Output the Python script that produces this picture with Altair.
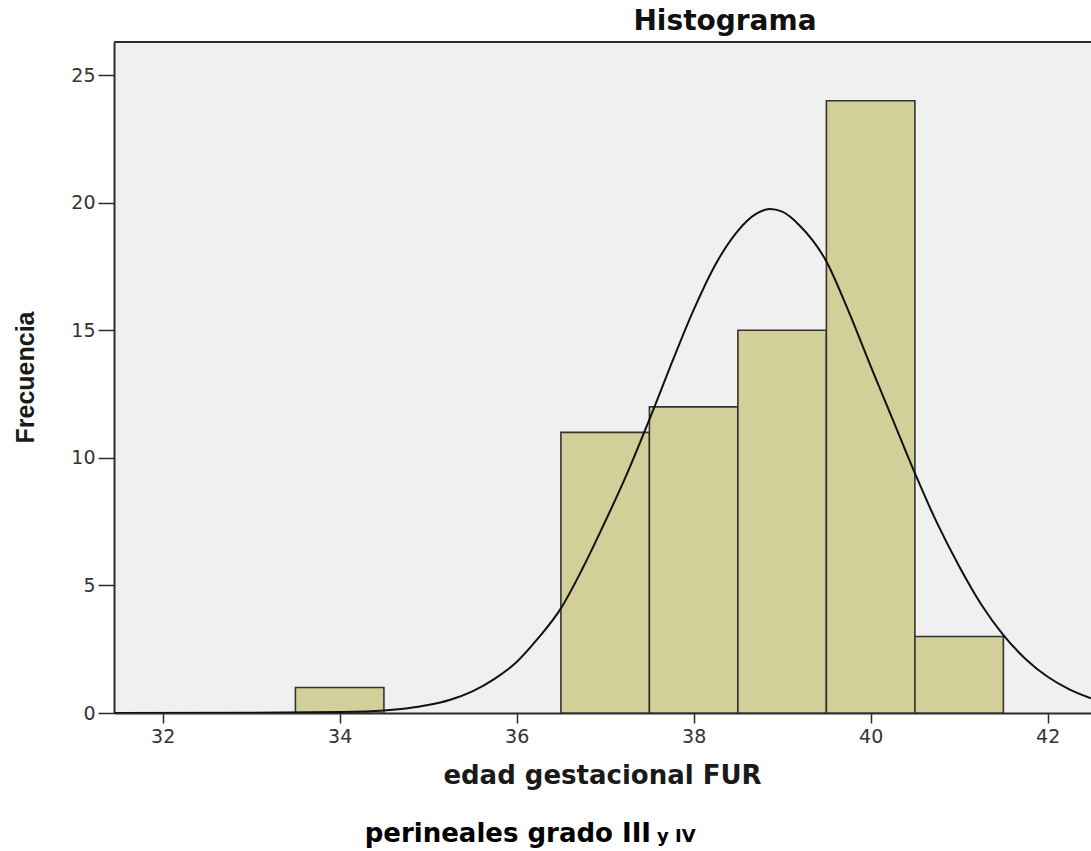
import altair as alt
import pandas as pd

# Histogram bins (edad gestacional FUR) and frequencies
bin_start = [33.5, 36.5, 37.5, 38.5, 39.5, 40.5]
bin_end = [34.5, 37.5, 38.5, 39.5, 40.5, 41.5]
counts = [1, 11, 12, 15, 24, 3]

# Normal curve, values
curve_x = [31.45, 33.0, 34.0, 34.5, 34.75, 35.0, 35.25, 35.5, 35.75, 36.0, 36.25,
           36.5, 36.75, 37.0, 37.25, 37.5, 37.75, 38.0, 38.25, 38.5, 38.7,
           38.86, 39.0, 39.2, 39.5, 39.75, 40.0, 40.25, 40.5, 40.75, 41.0,
           41.25, 41.5, 41.75, 42.0, 42.25, 42.49]
curve_y = [0.0, 0.01, 0.04, 0.1, 0.18, 0.31, 0.52, 0.85, 1.34, 2.0, 2.96,
           4.1, 5.7, 7.5, 9.4, 11.5, 13.7, 15.8, 17.6, 18.9, 19.55,
           19.75, 19.65, 19.1, 17.7, 15.75, 13.6, 11.5, 9.4, 7.45, 5.75,
           4.25, 3.05, 2.12, 1.42, 0.92, 0.58]

x_ticks = [32, 34, 36, 38, 40, 42]
y_ticks = [0, 5, 10, 15, 20, 25]

W, H = 977, 671
AX = "#2b2b2b"

bars_df = pd.DataFrame({"start": bin_start, "end": bin_end, "count": counts})
curve_df = pd.DataFrame({"x": curve_x, "y": curve_y})

xscale = alt.Scale(domain=[31.45, 42.49], nice=False, zero=False)
yscale = alt.Scale(domain=[0, 26.3], nice=False)

xaxis = alt.Axis(values=x_ticks, format="d", grid=False, tickSize=10, tickWidth=1.5,
                 tickColor=AX, domainColor=AX, domainWidth=2,
                 labelFont="DejaVu Sans", labelFontSize=19, labelColor="#333333",
                 labelPadding=4, title="edad gestacional FUR",
                 titleFont="DejaVu Sans", titleFontSize=26, titleFontWeight="bold",
                 titleColor="#1a1a1a", titleX=488, titleY=70,
                 titleBaseline="alphabetic", titleAlign="center")
yaxis = alt.Axis(values=y_ticks, format="d", grid=False, tickSize=16, tickWidth=1.5,
                 tickColor=AX, domainColor=AX, domainWidth=2,
                 labelFont="DejaVu Sans", labelFontSize=19, labelColor="#333333",
                 labelPadding=3, title="Frecuencia",
                 titleFont="Liberation Sans", titleFontSize=25, titleFontWeight="bold",
                 titleColor="#1a1a1a", titleAngle=270, titleX=-89, titleY=335,
                 titleBaseline="middle", titleAlign="center")

bars = alt.Chart(bars_df).mark_rect(
    color="#d3cf98", stroke="#333333", strokeWidth=1.6
).encode(
    x=alt.X("start:Q", scale=xscale, axis=xaxis),
    x2="end:Q",
    y=alt.Y("count:Q", scale=yscale, axis=yaxis),
    y2=alt.datum(0),
)

curve = alt.Chart(curve_df).mark_line(
    color="#111111", strokeWidth=2, interpolate="monotone", clip=True
).encode(
    x=alt.X("x:Q", scale=xscale),
    y=alt.Y("y:Q", scale=yscale),
)

top_border = alt.Chart(pd.DataFrame({"a": [0]})).mark_rule(
    color=AX, strokeWidth=2
).encode(x=alt.value(0), x2=alt.value(W), y=alt.value(0))

title_txt = alt.Chart(pd.DataFrame({"t": ["Histograma"]})).mark_text(
    font="DejaVu Sans", fontSize=28, fontWeight="bold", color="#111111",
    align="center", baseline="alphabetic"
).encode(text="t:N", x=alt.value(611), y=alt.value(-12))

cap1 = alt.Chart(pd.DataFrame({"t": ["perineales grado III"]})).mark_text(
    font="DejaVu Sans", fontSize=26, fontWeight="bold", color="#000000",
    align="right", baseline="alphabetic"
).encode(text="t:N", x=alt.value(537), y=alt.value(800))

cap2 = alt.Chart(pd.DataFrame({"t": ["y IV"]})).mark_text(
    font="DejaVu Sans", fontSize=18, fontWeight="bold", color="#000000",
    align="left", baseline="alphabetic"
).encode(text="t:N", x=alt.value(543), y=alt.value(800))

chart = alt.layer(bars, curve, top_border, title_txt, cap1, cap2).properties(
    width=W, height=H,
    autosize=alt.AutoSizeParams(type="none"),
    padding={"left": 114, "top": 42, "right": 0, "bottom": 138},
    background="white",
).configure_view(fill="#f0f0f0", stroke=None)

chart.save("out.html", embed_options={"renderer": "svg", "actions": False})
